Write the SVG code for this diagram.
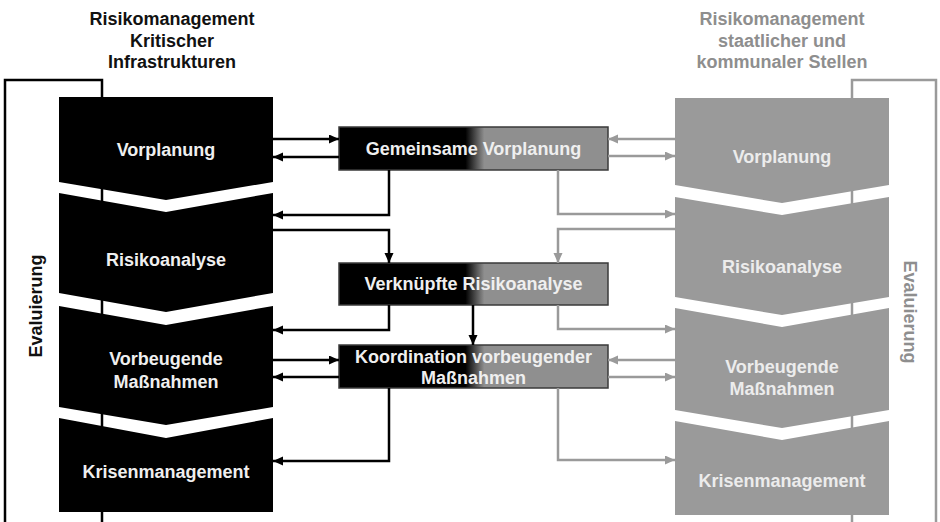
<svg xmlns="http://www.w3.org/2000/svg" width="940" height="522" viewBox="0 0 940 522">
  <style>
    .lbl { font-family: "Liberation Sans", Arial, sans-serif; font-weight: bold; font-size: 18px; text-anchor: middle; }
    .hdk { fill: #111111; }
    .hdg { fill: #8e8e8e; }
    .onk { fill: #efefef; }
    .ong { fill: #ececec; }
    .chk { fill: #000000; }
    .chg { fill: #9a9a9a; }
    .bk { fill: none; stroke: #000000; stroke-width: 2.5; }
    .gy { fill: none; stroke: #9a9a9a; stroke-width: 2.5; }
    .box { fill: url(#split); stroke: #3a3a3a; stroke-width: 1.5; }
  </style>
  <defs>
    <linearGradient id="split" x1="0" y1="0" x2="1" y2="0">
      <stop offset="0" stop-color="#000000"/>
      <stop offset="0.47" stop-color="#000000"/>
      <stop offset="0.54" stop-color="#8f8f8f"/>
      <stop offset="1" stop-color="#8f8f8f"/>
    </linearGradient>
    <marker id="ak" markerUnits="userSpaceOnUse" markerWidth="11" markerHeight="10" refX="10" refY="4.5" orient="auto">
      <path d="M0,0 L10,4.5 L0,9 z" fill="#000000"/>
    </marker>
    <marker id="ag" markerUnits="userSpaceOnUse" markerWidth="11" markerHeight="10" refX="10" refY="4.5" orient="auto">
      <path d="M0,0 L10,4.5 L0,9 z" fill="#9a9a9a"/>
    </marker>
  </defs>

  <rect width="940" height="522" fill="#ffffff"/>

  <!-- column headings -->
  <text class="lbl hdk" x="172" y="25">Risikomanagement</text>
  <text class="lbl hdk" x="172" y="47">Kritischer</text>
  <text class="lbl hdk" x="172" y="68">Infrastrukturen</text>
  <text class="lbl hdg" x="782" y="25">Risikomanagement</text>
  <text class="lbl hdg" x="782" y="47">staatlicher und</text>
  <text class="lbl hdg" x="782" y="68">kommunaler Stellen</text>

  <!-- evaluation loops -->
  <g id="eval-left">
    <path class="bk" d="M102,522 L102,80 L5,80 L5,522"/>
    <text class="lbl hdk" transform="translate(42,306) rotate(-90)">Evaluierung</text>
  </g>
  <g id="eval-right">
    <path class="gy" d="M852,522 L852,80 L936,80 L936,522"/>
    <text class="lbl hdg" transform="translate(904,312) rotate(90)">Evaluierung</text>
  </g>

  <!-- left process chain -->
  <g id="left-vorplanung">
    <polygon class="chk" points="59,97 273,97 273,182 166,200 59,182"/>
    <text class="lbl onk" x="166" y="156">Vorplanung</text>
  </g>
  <g id="left-risikoanalyse">
    <polygon class="chk" points="59,193 166,212 273,193 273,293 166,312 59,293"/>
    <text class="lbl onk" x="166" y="266">Risikoanalyse</text>
  </g>
  <g id="left-massnahmen">
    <polygon class="chk" points="59,306 166,325 273,306 273,407 166,425 59,407"/>
    <text class="lbl onk" x="166" y="365">Vorbeugende</text>
    <text class="lbl onk" x="166" y="388">Maßnahmen</text>
  </g>
  <g id="left-krisen">
    <polygon class="chk" points="59,418 166,438 273,418 273,512 59,512"/>
    <text class="lbl onk" x="166" y="478">Krisenmanagement</text>
  </g>

  <!-- right process chain -->
  <g id="right-vorplanung">
    <polygon class="chg" points="675,98 889,98 889,185 782,203 675,185"/>
    <text class="lbl ong" x="782" y="163">Vorplanung</text>
  </g>
  <g id="right-risikoanalyse">
    <polygon class="chg" points="675,197 782,215 889,197 889,297 782,315 675,297"/>
    <text class="lbl ong" x="782" y="273">Risikoanalyse</text>
  </g>
  <g id="right-massnahmen">
    <polygon class="chg" points="675,308 782,327 889,308 889,410 782,428 675,410"/>
    <text class="lbl ong" x="782" y="373">Vorbeugende</text>
    <text class="lbl ong" x="782" y="395">Maßnahmen</text>
  </g>
  <g id="right-krisen">
    <polygon class="chg" points="675,421 782,440 889,421 889,515 675,515"/>
    <text class="lbl ong" x="782" y="487">Krisenmanagement</text>
  </g>

  <!-- shared activities -->
  <g id="joint-vorplanung">
    <rect class="box" x="339" y="127" width="269" height="43"/>
    <text class="lbl onk" x="473.5" y="155">Gemeinsame Vorplanung</text>
  </g>
  <g id="joint-risikoanalyse">
    <rect class="box" x="339" y="263" width="269" height="42"/>
    <text class="lbl onk" x="473.5" y="290">Verknüpfte Risikoanalyse</text>
  </g>
  <g id="joint-massnahmen">
    <rect class="box" x="339" y="345" width="269" height="43"/>
    <text class="lbl onk" x="473.5" y="363">Koordination vorbeugender</text>
    <text class="lbl onk" x="473.5" y="384">Maßnahmen</text>
  </g>

  <!-- connectors -->
  <g id="connectors">
    <!-- left side -->
    <path class="bk" d="M273,139 L339,139" marker-end="url(#ak)"/>
    <path class="bk" d="M339,157 L273,157" marker-end="url(#ak)"/>
    <path class="bk" d="M389,170 L389,215 L273,215" marker-end="url(#ak)"/>
    <path class="bk" d="M273,230 L389,230 L389,263" marker-end="url(#ak)"/>
    <path class="bk" d="M389,305 L389,330 L273,330" marker-end="url(#ak)"/>
    <path class="bk" d="M473,305 L473,345" marker-end="url(#ak)"/>
    <path class="bk" d="M273,360 L339,360" marker-end="url(#ak)"/>
    <path class="bk" d="M339,377 L273,377" marker-end="url(#ak)"/>
    <path class="bk" d="M389,388 L389,461 L273,461" marker-end="url(#ak)"/>
    <!-- right side -->
    <path class="gy" d="M675,139 L608,139" marker-end="url(#ag)"/>
    <path class="gy" d="M608,156 L675,156" marker-end="url(#ag)"/>
    <path class="gy" d="M558,170 L558,214 L675,214" marker-end="url(#ag)"/>
    <path class="gy" d="M675,229 L558,229 L558,263" marker-end="url(#ag)"/>
    <path class="gy" d="M558,305 L558,329 L675,329" marker-end="url(#ag)"/>
    <path class="gy" d="M675,360 L608,360" marker-end="url(#ag)"/>
    <path class="gy" d="M608,377 L675,377" marker-end="url(#ag)"/>
    <path class="gy" d="M558,388 L558,460 L675,460" marker-end="url(#ag)"/>
  </g>
</svg>
